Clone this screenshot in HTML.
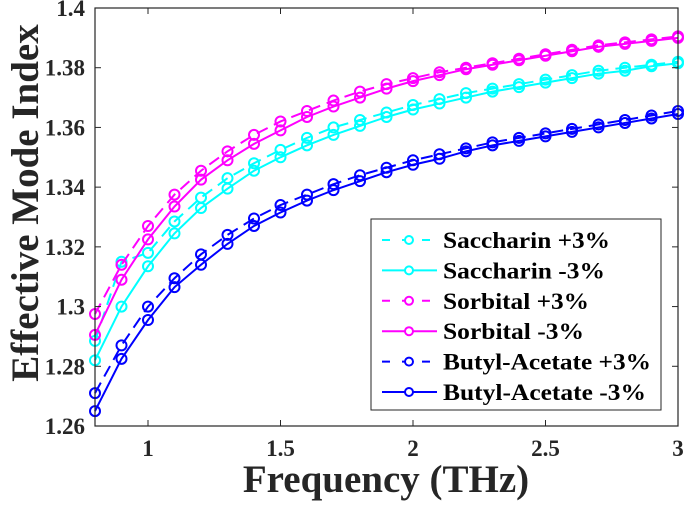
<!DOCTYPE html>
<html><head><meta charset="utf-8"><style>
body{margin:0;background:#fff}
svg text{font-family:"Liberation Serif",serif;font-weight:bold}
</style></head><body>
<svg id="c" width="685" height="506" xmlns="http://www.w3.org/2000/svg"></svg>
<script>
const freq=[0.8,0.9,1.0,1.1,1.2,1.3,1.4,1.5,1.6,1.7,1.8,1.9,2.0,2.1,2.2,2.3,2.4,2.5,2.6,2.7,2.8,2.9,3.0];
const saccharinPlus=[1.2885,1.315,1.318,1.3285,1.3365,1.343,1.348,1.3525,1.3565,1.360,1.3625,1.365,1.3675,1.3695,1.3715,1.373,1.3745,1.376,1.3775,1.379,1.380,1.381,1.382];
const saccharinMinus=[1.282,1.300,1.3135,1.3245,1.333,1.3395,1.3455,1.350,1.354,1.3575,1.3605,1.3635,1.366,1.368,1.370,1.372,1.3735,1.375,1.3765,1.378,1.379,1.3805,1.3815];
const sorbitalPlus=[1.2975,1.314,1.327,1.3375,1.3455,1.352,1.3575,1.362,1.3655,1.369,1.372,1.3745,1.3765,1.3785,1.380,1.3815,1.383,1.3845,1.386,1.3875,1.3885,1.3895,1.3905];
const sorbitalMinus=[1.2905,1.309,1.3225,1.3335,1.3425,1.349,1.3545,1.359,1.3635,1.367,1.370,1.373,1.3755,1.3775,1.3795,1.381,1.3825,1.384,1.3855,1.387,1.388,1.389,1.390];
const butylPlus=[1.271,1.287,1.300,1.3095,1.3175,1.324,1.3295,1.334,1.3375,1.341,1.344,1.3465,1.349,1.351,1.353,1.355,1.3565,1.358,1.3595,1.361,1.3625,1.364,1.3655];
const butylMinus=[1.265,1.2825,1.2955,1.3065,1.314,1.321,1.327,1.3315,1.3355,1.339,1.342,1.345,1.3475,1.3495,1.352,1.354,1.3555,1.357,1.3585,1.360,1.3615,1.363,1.3645];
const xTicks=[1,1.5,2,2.5,3];
const xTickLabels=["1","1.5","2","2.5","3"];
const yTicks=[1.26,1.28,1.3,1.32,1.34,1.36,1.38,1.4];
const yTickLabels=["1.26","1.28","1.3","1.32","1.34","1.36","1.38","1.4"];
const seriesNames=["Saccharin +3%","Saccharin -3%","Sorbital +3%","Sorbital -3%","Butyl-Acetate +3%","Butyl-Acetate -3%"];

const L=95,R=678,T=8,B=426;
const x=v=>L+(v-0.8)/(3-0.8)*(R-L);
const y=v=>B-(v-1.26)/(1.4-1.26)*(B-T);
const svg=document.getElementById('c');
const NS='http://www.w3.org/2000/svg';
function mk(t,a,p){const e=document.createElementNS(NS,t);for(const k in a)e.setAttribute(k,a[k]);(p||svg).appendChild(e);return e;}

const series=[
 {d:saccharinPlus,c:'#00ffff',dash:true,n:'saccharin-plus'},
 {d:saccharinMinus,c:'#00ffff',dash:false,n:'saccharin-minus'},
 {d:sorbitalPlus,c:'#ff00ff',dash:true,n:'sorbital-plus'},
 {d:sorbitalMinus,c:'#ff00ff',dash:false,n:'sorbital-minus'},
 {d:butylPlus,c:'#0000ff',dash:true,n:'butyl-acetate-plus'},
 {d:butylMinus,c:'#0000ff',dash:false,n:'butyl-acetate-minus'}];

series.forEach(s=>{
 const g=mk('g',{});
 
 
 const pl=mk('polyline',{points:freq.map((f,i)=>x(f)+','+y(s.d[i])).join(' '),fill:'none',stroke:s.c,'stroke-width':2,'stroke-dasharray':s.dash?'12,7':'none'},g);
 
 
 freq.forEach((f,i)=>{
  const m=mk('circle',{cx:x(f),cy:y(s.d[i]),r:5,fill:'none',stroke:s.c,'stroke-width':2},g);
  
  
 });
});

const box=mk('rect',{x:L,y:T,width:R-L,height:B-T,fill:'none',stroke:'#262626','stroke-width':1.2});


xTicks.forEach((v,i)=>{
 mk('line',{x1:x(v),x2:x(v),y1:B,y2:B-6,stroke:'#262626'});
 mk('line',{x1:x(v),x2:x(v),y1:T,y2:T+6,stroke:'#262626'});
 const t=mk('text',{x:x(v),y:B+30,'text-anchor':'middle','font-size':23,fill:'#262626'});
 t.textContent=xTickLabels[i];
 
 
});
yTicks.forEach((v,i)=>{
 mk('line',{x1:L,x2:L+6,y1:y(v),y2:y(v),stroke:'#262626'});
 mk('line',{x1:R,x2:R-6,y1:y(v),y2:y(v),stroke:'#262626'});
 const t=mk('text',{x:L-10,y:y(v)+8,'text-anchor':'end','font-size':23,fill:'#262626'});
 t.textContent=yTickLabels[i];
 
 
});
const xt=mk('text',{x:386,y:492,'text-anchor':'middle','font-size':39,fill:'#262626'});
xt.textContent='Frequency (THz)';


const yt=mk('text',{x:0,y:0,'text-anchor':'middle','font-size':39,fill:'#262626',transform:'translate(38,203) rotate(-90)'});
yt.textContent='Effective Mode Index';



const lg=mk('g',{});


mk('rect',{x:371,y:219,width:290,height:191,fill:'#fff',stroke:'#262626','stroke-width':1},lg);
const lw=[167,162,146,141,208,203];
series.forEach((s,i)=>{
 const yy=240+i*30.4;
 const e=mk('g',{},lg);
 
 
 mk('line',{x1:382,x2:437,y1:yy,y2:yy,stroke:s.c,'stroke-width':2,'stroke-dasharray':s.dash?'8,12':'none'},e);
 mk('circle',{cx:409,cy:yy,r:4,fill:'#fff',stroke:s.c,'stroke-width':2},e);
 const t=mk('text',{x:443,y:yy+8,'font-size':23,fill:'#000',textLength:lw[i],lengthAdjust:'spacingAndGlyphs'},e);
 t.textContent=seriesNames[i];
});
</script>
</body></html>
